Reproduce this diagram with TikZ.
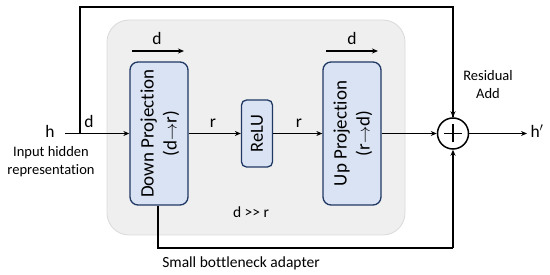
\documentclass[tikz,border=0pt]{standalone}
\usepackage{fontspec}
\setmainfont{Carlito}[Ligatures=NoCommon]
\usetikzlibrary{arrows.meta}
\definecolor{boxfill}{HTML}{DAE3F3}
\definecolor{boxline}{HTML}{1F3864}
\definecolor{bgfill}{HTML}{EFEFEF}
\definecolor{bgline}{HTML}{DADADA}
\begin{document}
\begin{tikzpicture}[x=1pt,y=-1pt,
  conn/.style={line width=1.3pt,-{Stealth[length=6pt,width=5pt]}},
  plainline/.style={line width=1.3pt},
  projbox/.style={draw=boxline,fill=boxfill,line width=1.3pt,rounded corners=8pt,minimum width=58pt,minimum height=143pt,inner sep=0pt},
  relubox/.style={draw=boxline,fill=boxfill,line width=1.3pt,rounded corners=5pt,minimum width=31pt,minimum height=67pt,inner sep=0pt},
  boxtxt/.style={font=\fontsize{19}{23}\selectfont,inner sep=0pt,align=center},
  relutxtstyle/.style={font=\fontsize{18.5}{20}\selectfont,inner sep=0pt},
  lbl/.style={font=\fontsize{15.5}{18}\selectfont,inner sep=0pt},
  biglbl/.style={font=\fontsize{17.5}{20}\selectfont,inner sep=0pt},
  smalllbl/.style={font=\fontsize{14.5}{18}\selectfont,inner sep=0pt,align=center}]
\useasboundingbox (0,0) rectangle (550,275);
\node[draw=bgline,fill=bgfill,line width=0.8pt,rounded corners=22pt,minimum width=298pt,minimum height=215pt,inner sep=0pt] (bg) at (256,127.5) {};
\node[projbox] (down) at (159,133.5) {};
\node[rotate=90,boxtxt] (downtxt) at ([xshift=1pt]down.center) {Down Projection\\(d$\rightarrow$r)};
\node[relubox] (relu) at (257,133.5) {};
\node[rotate=90,relutxtstyle] (relutxt) at ([xshift=0pt]relu.center) {ReLU};
\node[projbox] (up) at (352,133.5) {};
\node[rotate=90,boxtxt] (uptxt) at ([xshift=1pt]up.center) {Up Projection\\(r$\rightarrow$d)};
\node[draw=black,circle,line width=1.5pt,minimum size=31pt,inner sep=0pt] (add) at (453,133.5) {};
\draw[line width=1.3pt] ([yshift=-9pt]add.center) -- ([yshift=9pt]add.center) ([xshift=-9pt]add.center) -- ([xshift=9pt]add.center);
\node[biglbl] (h) at (50,131) {h};
\node[biglbl] (hp) at (537,131) {h$'$};
\coordinate (hstart) at (65,133.5);
\coordinate (split) at (80,133.5);
\coordinate (tl) at (80,7);
\coordinate (tr) at (453,7);
\coordinate (hend) at (527,133.5);
\draw[conn] (hstart) -- (down.west);
\draw[plainline] (split) -- (tl) -- (tr) -- (add.north) ;
\draw[conn] (tr) -- (add.north);
\draw[conn] (down.east) -- (relu.west);
\draw[conn] (relu.east) -- (up.west);
\draw[conn] (up.east) -- (add.west);
\draw[conn] (add.east) -- (hend);
\coordinate (bl) at (158,248);
\coordinate (br) at (453,248);
\draw[plainline] ([xshift=-1pt]down.south) -- (bl) -- (br);
\draw[conn] (br) -- (add.south);
\coordinate (d1a) at (132,51);
\coordinate (d1b) at (184,51);
\draw[conn] (d1a) -- (d1b);
\coordinate (d2a) at (326,51);
\coordinate (d2b) at (378,51);
\draw[conn] (d2a) -- (d2b);
\node[biglbl] (d1) at (157,38) {d};
\node[biglbl] (d2) at (352,38) {d};
\node[biglbl] (d0) at (89,121) {d};
\node[biglbl] (r1) at (213,123) {r};
\node[biglbl] (r2) at (299,123) {r};
\node[smalllbl] (res) at (488,85) {Residual\\Add};
\node[smalllbl] (inp) at (51,162) {Input hidden\\representation};
\node[lbl] (dr) at (251,212) {d {>}{>} r};
\node[lbl] (sba) at (241,263) {Small bottleneck adapter};
\end{tikzpicture}
\end{document}
